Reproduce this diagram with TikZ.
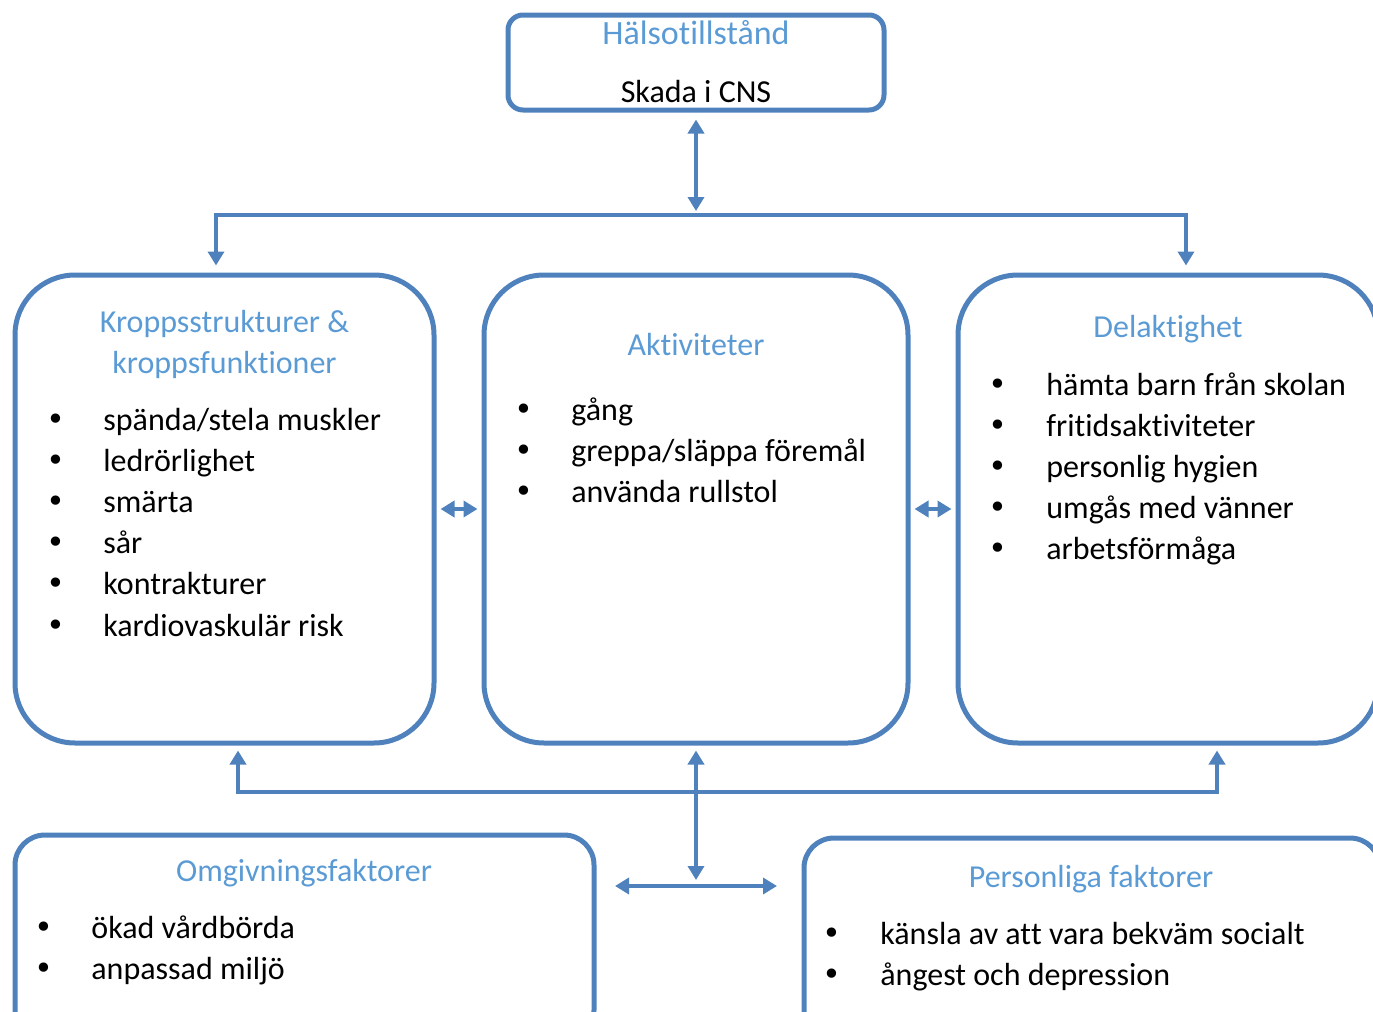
\documentclass[tikz,border=0pt]{standalone}
\usepackage{fontspec}
\setmainfont[RawFeature={-liga;-clig;-calt;-dlig}]{Carlito}
\newfontfamily\bulfont{DejaVu Sans}
\usetikzlibrary{arrows.meta}
\definecolor{bord}{RGB}{79,129,189}
\definecolor{head}{RGB}{91,155,213}
\tikzset{
  box/.style={draw=bord, line width=2.5pt, inner sep=0pt},
  conn/.style={draw=bord, line width=2.3pt},
  dbl/.style={conn, {Triangle[width=8pt,length=7pt]}-{Triangle[width=8pt,length=7pt]}},
  one/.style={conn, -{Triangle[width=8pt,length=7pt]}},
  hd/.style={text=head, font=\fontsize{16}{20.5}\selectfont, anchor=base, inner sep=0pt},
  blk/.style={font=\fontsize{16}{20.5}\selectfont, anchor=base, inner sep=0pt},
  txt/.style={font=\fontsize{16}{20.5}\selectfont, anchor=base west, inner sep=0pt},
  bul/.style={font=\bulfont\fontsize{16}{20.5}\selectfont, anchor=base, inner sep=0pt},
}
\begin{document}
\begin{tikzpicture}[x=0.5pt,y=-0.5pt]
\useasboundingbox (0,0) rectangle (1373,1012);
\clip (0,0) rectangle (1373,1012);

% boxes
\node[box, minimum width=188pt, minimum height=47.5pt, rounded corners=7.5pt] (tb) at (696,62.5) {};
\node[box, minimum width=209.5pt, minimum height=234pt, rounded corners=30pt] (lb) at (224.5,509) {};
\node[box, minimum width=212pt, minimum height=234pt, rounded corners=30pt] (mb) at (696,509) {};
\node[box, minimum width=210pt, minimum height=234pt, rounded corners=30pt] (rb) at (1168,509) {};
\node[box, minimum width=289.5pt, minimum height=102.5pt, rounded corners=15pt] (ob) at (304.5,937.5) {};
\node[box, minimum width=288pt, minimum height=101pt, rounded corners=15pt] (pb) at (1092,939) {};

% top texts
\node[hd, font=\fontsize{17}{21}\selectfont] (t1) at (696,45) {Hälsotillstånd};
\node[blk] (t2) at (696,102) {Skada i CNS};

% left box
\node[hd] (l1) at (224.5,332) {Kroppsstrukturer \&};
\node[hd] (l2) at (224.5,373) {kroppsfunkt\kern0pt ioner};
\foreach \t [count=\i from 0] in {spända/stela muskler, ledrörlighet, smärta, sår, kontrakturer, kardiovaskulär risk}{
  \node[bul] (lbul\i) at (56,430+41.2*\i) {•};
  \node[txt] (ltx\i) at (103,430+41.2*\i) {\t};
}

% middle box
\node[hd] (m1) at (696,355) {Akt\kern0pt ivit\kern0pt eter};
\foreach \t [count=\i from 0] in {gång, greppa/släppa föremål, använda rullstol}{
  \node[bul] (mbul\i) at (524,420+41*\i) {•};
  \node[txt] (mtx\i) at (571,420+41*\i) {\t};
}

% right box
\node[hd] (r1) at (1168,337) {Delaktighet};
\foreach \t [count=\i from 0] in {hämta barn från skolan, frit\kern0pt idsakt\kern0pt ivit\kern0pt eter, personlig hygien, umgås med vänner, arbetsförmåga}{
  \node[bul] (rbul\i) at (998,395+41*\i) {•};
  \node[txt] (rtx\i) at (1046,395+41*\i) {\t};
}

% bottom left
\node[hd] (o1) at (304,881) {Omgivningsfaktorer};
\foreach \t [count=\i from 0] in {ökad vårdbörda, anpassad miljö}{
  \node[bul] (obul\i) at (44,938+41*\i) {•};
  \node[txt] (otx\i) at (91,938+41*\i) {\t};
}

% bottom right
\node[hd] (p1) at (1091,887) {Personliga faktorer};
\foreach \t [count=\i from 0] in {känsla av at\kern0pt t vara bekväm socialt, ångest och depression}{
  \node[bul] (pbul\i) at (832,944+41*\i) {•};
  \node[txt] (ptx\i) at (880,944+41*\i) {\t};
}

% connectors
\coordinate (hubT) at (696,215);
\coordinate (tl) at (216,215);
\coordinate (tr) at (1186,215);
\coordinate (hubB) at (696,792);
\coordinate (bl) at (238,792);
\coordinate (br) at (1217,792);
\coordinate (vb) at (696,880);
\coordinate (hl) at (615,886);
\coordinate (hr) at (777,886);

\draw[dbl, shorten <=3.5pt, shorten >=2pt] (tb.south) -- (hubT);
\draw[one, shorten >=3.5pt, line join=miter] (hubT) -| (tl |- lb.north);
\draw[one, shorten >=3.5pt, line join=miter] (hubT) -| (tr |- rb.north);

\draw[dbl, shorten <=2pt, shorten >=2pt] (lb.east) -- (mb.west);
\draw[dbl, shorten <=2pt, shorten >=2pt] (mb.east) -- (rb.west);

\draw[one, shorten >=2.5pt, line join=miter] (hubB) -| (bl |- lb.south);
\draw[one, shorten >=2.5pt, line join=miter] (hubB) -| (br |- rb.south);
\draw[dbl, shorten <=2.5pt] (mb.south) -- (vb);
\draw[dbl] (hl) -- (hr);
\end{tikzpicture}
\end{document}
